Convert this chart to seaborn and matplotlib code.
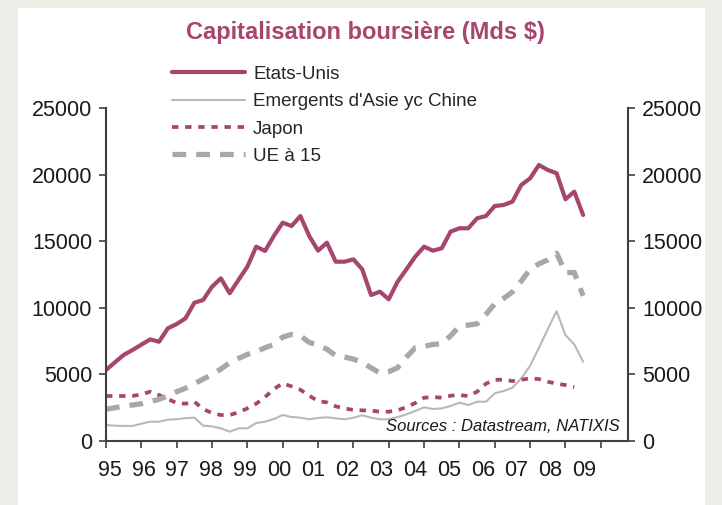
import numpy as np
import pandas as pd
import matplotlib
matplotlib.use("Agg")
import matplotlib.pyplot as plt
from matplotlib.patches import Rectangle
from matplotlib.ticker import FixedLocator, FixedFormatter
import seaborn as sns

# Quarterly data, 1995Q1 -> 2008Q3 (Mds $)
etats_unis = [5330, 5900, 6460, 6830, 7230, 7630, 7450, 8460, 8780, 9210,
              10380, 10590, 11580, 12210, 11090, 12100, 13090, 14590, 14270, 15400,
              16390, 16140, 16890, 15390, 14290, 14890, 13460, 13460, 13640, 12890,
              10960, 11210, 10640, 11960, 12890, 13840, 14590, 14290, 14470, 15720,
              15970, 15970, 16720, 16890, 17640, 17720, 17970, 19220, 19720, 20720,
              20350, 20100, 18150, 18720, 16970]
emergents_asie = [1200, 1150, 1130, 1130, 1300, 1450, 1450, 1600, 1630, 1720,
                  1750, 1150, 1100, 950, 700, 950, 950, 1350, 1450, 1650,
                  1950, 1800, 1750, 1630, 1730, 1780, 1700, 1630, 1750, 1930,
                  1750, 1630, 1630, 1800, 2000, 2250, 2530, 2400, 2450, 2630,
                  2880, 2700, 2950, 2950, 3580, 3750, 4000, 4700, 5650, 7000,
                  8400, 9750, 7950, 7250, 5950]
japon = [3380, 3380, 3380, 3380, 3500, 3700, 3450, 3150, 2850, 2800,
         2950, 2400, 2100, 1950, 1950, 2150, 2450, 2800, 3300, 3900,
         4330, 4100, 3850, 3400, 3000, 2900, 2600, 2450, 2330, 2300,
         2280, 2200, 2200, 2300, 2550, 2850, 3250, 3300, 3250, 3400,
         3450, 3380, 3700, 4300, 4600, 4600, 4500, 4600, 4700, 4650,
         4450, 4300, 4200, 4050]
ue15 = [2380, 2500, 2600, 2700, 2800, 2950, 3130, 3400, 3700, 3960,
        4300, 4650, 5000, 5400, 5880, 6200, 6500, 6700, 7000, 7250,
        7800, 8000, 7900, 7400, 7200, 6900, 6400, 6300, 6150, 5900,
        5500, 5100, 5200, 5500, 6300, 7000, 7100, 7250, 7300, 7900,
        8600, 8700, 8800, 9500, 10300, 10700, 11200, 12000, 12900, 13300,
        13600, 14100, 12650, 12650, 10900]

year_labels = ["95", "96", "97", "98", "99", "00", "01", "02", "03", "04",
               "05", "06", "07", "08", "09"]
y_ticks = [0, 5000, 10000, 15000, 20000, 25000]

MAUVE = "#A6466F"
GREY_LIGHT = "#B8B8B8"
GREY_DASH = "#A8A8A8"

def quarters(values):
    return pd.DataFrame({"date": 1995 + np.arange(len(values)) / 4, "value": values})

sns.set_style("ticks")
plt.rcParams["font.family"] = ["Liberation Sans", "DejaVu Sans"]

fig = plt.figure(figsize=(7.22, 5.05), dpi=100)
fig.patch.set_facecolor("#EEEEE8")
fig.patches.append(Rectangle((18 / 722, 0), 687 / 722, 497 / 505,
                             transform=fig.transFigure, facecolor="white",
                             edgecolor="none", zorder=-10))

ax = fig.add_axes([106 / 722, 1 - 441 / 505, 522 / 722, 333 / 505])
ax.set_facecolor("none")

sns.lineplot(data=quarters(etats_unis), x="date", y="value", ax=ax,
             color=MAUVE, linewidth=3.0, label="Etats-Unis",
             solid_joinstyle="round")
sns.lineplot(data=quarters(emergents_asie), x="date", y="value", ax=ax,
             color=GREY_LIGHT, linewidth=1.5, label="Emergents d'Asie yc Chine")
sns.lineplot(data=quarters(japon), x="date", y="value", ax=ax,
             color=MAUVE, linewidth=2.7, linestyle=(0, (1.7, 1.8)),
             label="Japon", dash_capstyle="butt")
sns.lineplot(data=quarters(ue15), x="date", y="value", ax=ax,
             color=GREY_DASH, linewidth=3.8, linestyle=(0, (2.6, 1.9)),
             label="UE à 15", dash_capstyle="butt")

ax.set_xlim(1995, 2009.77)
ax.set_ylim(0, 25000)
ax.set_xlabel("")
ax.set_ylabel("")

# x axis: ticks every year, labels slightly offset like the original
ax.set_xticks(np.arange(1995, 2010))
ax.set_xticklabels([])
ax.xaxis.set_minor_locator(FixedLocator(1995.1 + 0.96 * np.arange(len(year_labels))))
ax.xaxis.set_minor_formatter(FixedFormatter(year_labels))
ax.tick_params(axis="x", which="major", length=5, width=1.2, color="#404040", direction="out")
ax.tick_params(axis="x", which="minor", length=0, pad=14, labelsize=15.5, labelcolor="#1a1a1a")

ax.set_yticks(y_ticks)
ax.set_yticklabels([str(v) for v in y_ticks])
ax.tick_params(axis="y", which="both", left=True, right=True, labelleft=True,
               labelright=True, length=5, width=1.2, color="#404040",
               labelsize=15.5, labelcolor="#1a1a1a", pad=5)

for side in ["left", "right", "bottom"]:
    ax.spines[side].set_visible(True)
    ax.spines[side].set_color("#404040")
    ax.spines[side].set_linewidth(1.5)
ax.spines["top"].set_visible(False)

handles, labels = ax.get_legend_handles_labels()
ax.legend_.remove()
fig.legend(handles, labels, loc="upper left", bbox_to_anchor=(164 / 722, 1 - 58 / 505),
           frameon=False, fontsize=13.5, handlelength=3.9, handletextpad=0.45,
           labelspacing=0.55, borderaxespad=0)

fig.text(365 / 722, 1 - 32 / 505, "Capitalisation boursière (Mds $)",
         ha="center", va="center", fontsize=17, fontweight="bold", color=MAUVE)
ax.text(0.985, 0.045, "Sources : Datastream, NATIXIS", transform=ax.transAxes,
        ha="right", va="center", fontsize=12, style="italic", color="#1a1a1a")

plt.savefig("out.png", dpi=100, facecolor=fig.get_facecolor())
